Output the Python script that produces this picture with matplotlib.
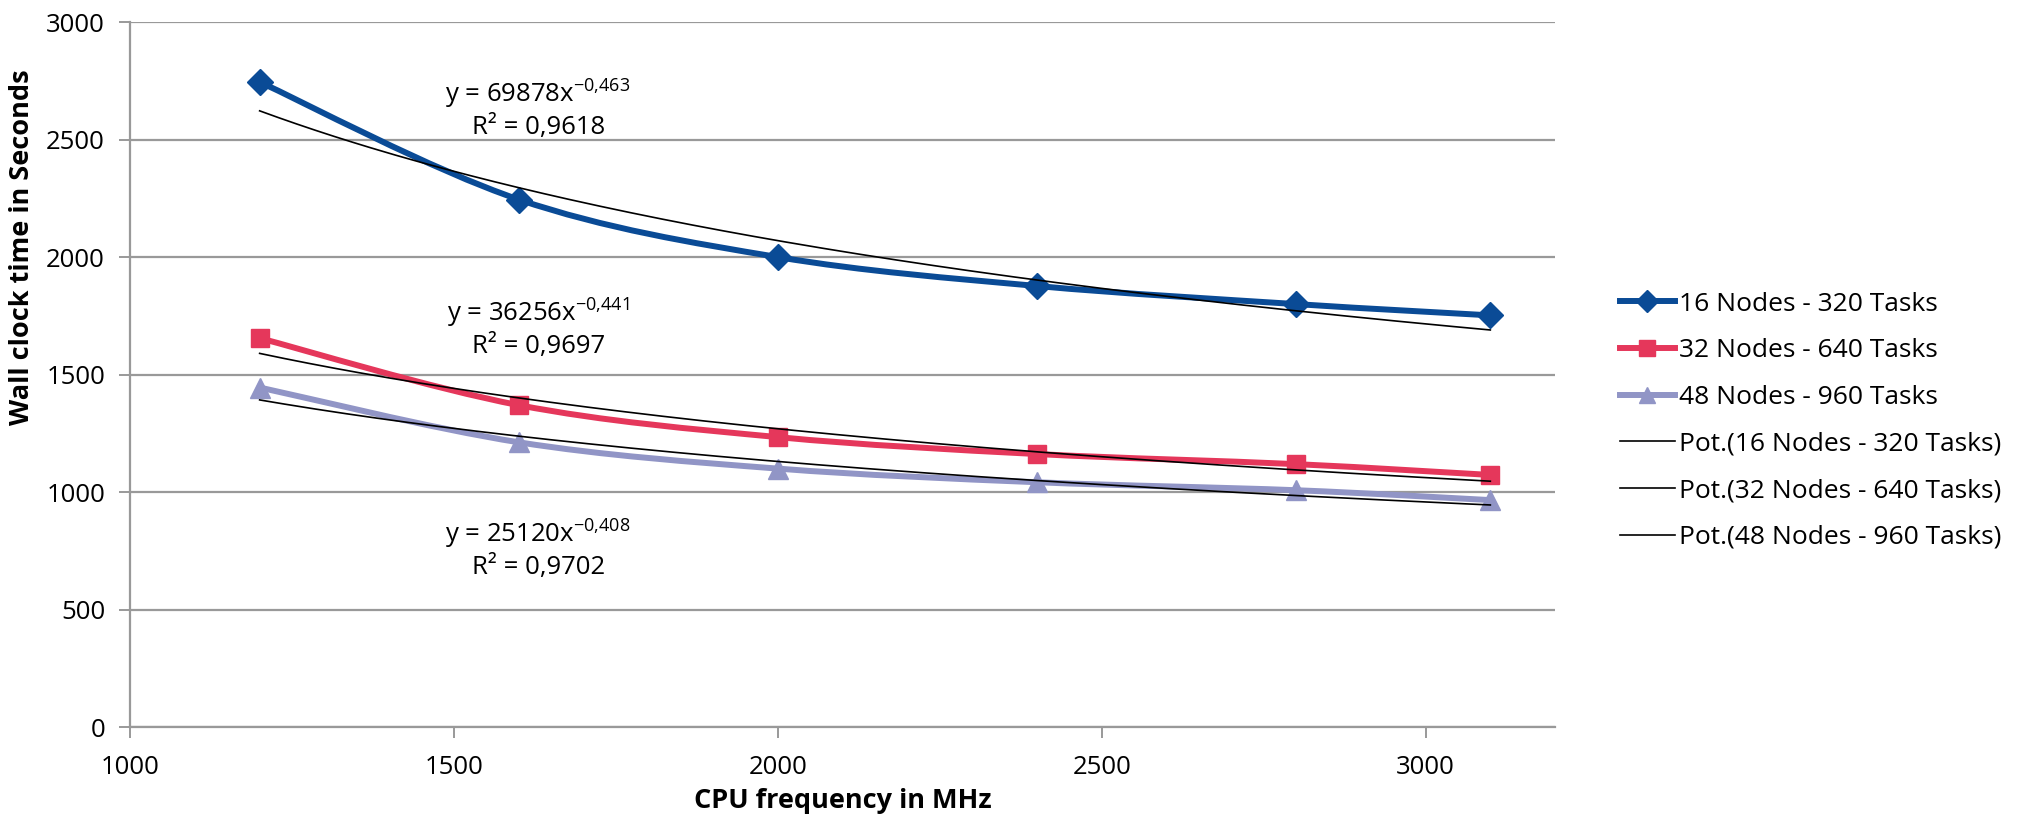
import numpy as np
import matplotlib.pyplot as plt
from matplotlib.path import Path
from matplotlib.patches import PathPatch
from matplotlib.lines import Line2D

plt.rcParams['font.family'] = ['Open Sans', 'DejaVu Sans']
plt.rcParams['mathtext.fontset'] = 'custom'
plt.rcParams['mathtext.rm'] = 'Open Sans'
plt.rcParams['mathtext.it'] = 'Open Sans'

# Données
freq = [1200, 1600, 2000, 2400, 2800, 3100]
temps_16 = [2745, 2245, 2000, 1877, 1800, 1752]
temps_32 = [1655, 1370, 1234, 1162, 1119, 1073]
temps_48 = [1445, 1212, 1100, 1042, 1008, 966]

noms = ["16 Nodes - 320 Tasks", "32 Nodes - 640 Tasks", "48 Nodes - 960 Tasks"]
couleurs = ["#0a4b96", "#e5375b", "#9195c6"]
marqueurs = ["D", "s", "^"]
tailles = [13, 13, 14]

# Courbes de tendance (puissance) affichées sur le graphique
coef_a = [69878, 36256, 25120]
coef_b = [-0.463, -0.441, -0.408]
texte_a = ["69878", "36256", "25120"]
texte_b = ["-0,463", "-0,441", "-0,408"]
texte_r2 = ["0,9618", "0,9697", "0,9702"]
pos_texte = [(1630, 2630), (1630, 1700), (1630, 760)]


def chemin_lisse(x, y):
    """Courbe lissée façon Excel (Catmull-Rom -> Bézier cubique)."""
    pts = np.column_stack([x, y]).astype(float)
    sommets = [pts[0]]
    codes = [Path.MOVETO]
    n = len(pts)
    for i in range(n - 1):
        p0 = pts[max(i - 1, 0)]
        p1 = pts[i]
        p2 = pts[i + 1]
        p3 = pts[min(i + 2, n - 1)]
        c1 = p1 + (p2 - p0) / 6
        c2 = p2 - (p3 - p1) / 6
        sommets += [c1, c2, p2]
        codes += [Path.CURVE4] * 3
    return Path(sommets, codes)


fig = plt.figure(figsize=(20.17, 8.17), dpi=100)
ax = fig.add_axes([0.0645, 0.110, 0.7065, 0.863])

grille = "#999999"
ax.set_xlim(1000, 3200)
ax.set_ylim(0, 3000)
ax.set_xticks([1000, 1500, 2000, 2500, 3000])
ax.set_yticks(range(0, 3001, 500))
ax.grid(axis="y", color=grille, linewidth=1.6)
ax.set_axisbelow(True)
for cote in ["top", "right"]:
    ax.spines[cote].set_visible(False)
for cote in ["left", "bottom"]:
    ax.spines[cote].set_color(grille)
    ax.spines[cote].set_linewidth(1.6)
ax.tick_params(axis="both", colors=grille, labelcolor="black", labelsize=18.5,
               width=1.4, length=8)
ax.tick_params(axis="x", pad=12)
ax.tick_params(axis="y", pad=10)

handles = []
for serie, nom, c, m, t in zip([temps_16, temps_32, temps_48], noms, couleurs, marqueurs, tailles):
    ax.add_patch(PathPatch(chemin_lisse(freq, serie), fill=False, edgecolor=c,
                           linewidth=4.3, capstyle="round", joinstyle="round", zorder=3))
    ax.plot(freq, serie, linestyle="none", marker=m, markersize=t, color=c, zorder=4)
    handles.append(Line2D([], [], color=c, linewidth=4.3, marker=m, markersize=t - 2))

xt = np.linspace(freq[0], freq[-1], 200)
for a, b in zip(coef_a, coef_b):
    ax.plot(xt, a * xt ** b, color="black", linewidth=1.2, zorder=5)
    handles.append(Line2D([], [], color="black", linewidth=1.2))

labels = noms + ["Pot.(" + nom + ")" for nom in noms]

for (xx, yy), ta, tb, r2 in zip(pos_texte, texte_a, texte_b, texte_r2):
    ax.text(xx, yy, "y = " + ta + "x$^{" + tb.replace(",", "{,}") + "}$\nR² = " + r2,
            ha="center", va="center", fontsize=18.5, linespacing=1.2)

ax.set_xlabel("CPU frequency in MHz", fontsize=19.5, fontweight="bold")
ax.set_ylabel("Wall clock time in Seconds", fontsize=19.5, fontweight="bold")
ax.xaxis.set_label_coords(0.5, -0.087)
ax.yaxis.set_label_coords(-0.067, 0.68)

fig.legend(handles, labels, loc="center left", bbox_to_anchor=(0.803, 0.485),
           frameon=False, fontsize=19, handlelength=2.1, handletextpad=0.15,
           labelspacing=0.82, borderpad=0, borderaxespad=0)

fig.savefig("out.png", dpi=100)
